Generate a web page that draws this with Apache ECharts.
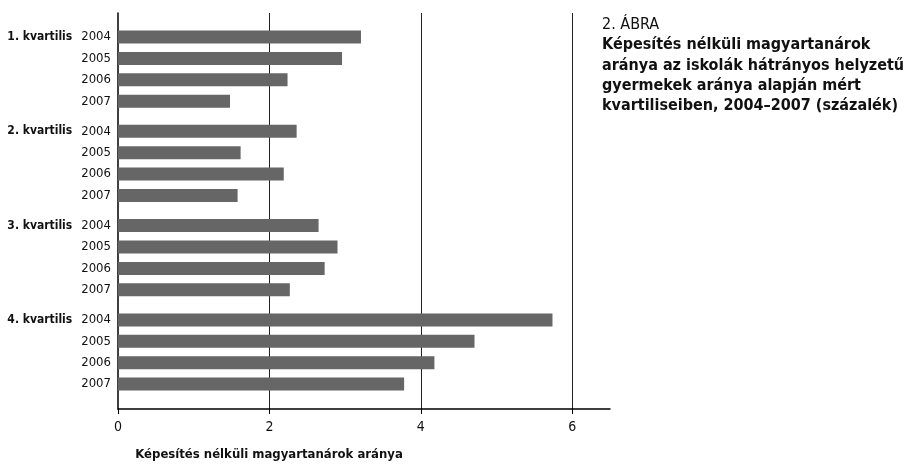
<!DOCTYPE html>
<html>
<head>
<meta charset="utf-8">
<script src="https://cdn.jsdelivr.net/npm/echarts@6/dist/echarts.min.js"></script>
<style>html,body{margin:0;padding:0;background:#fff}#c{width:921px;height:466px}</style>
</head>
<body>
<div id="c"></div>
<script>
const groups = ['1. kvartilis', '2. kvartilis', '3. kvartilis', '4. kvartilis'];
const years = ['2004', '2005', '2006', '2007'];
const q1 = [3.21, 2.96, 2.24, 1.48];
const q2 = [2.36, 1.62, 2.19, 1.58];
const q3 = [2.65, 2.90, 2.73, 2.27];
const q4 = [5.74, 4.71, 4.18, 3.78];
const xTicks = [0, 2, 4, 6];
const xMax = 6.5;
const xTitle = 'Képesítés nélküli magyartanárok aránya';
const titleLines = ['2. ÁBRA', 'Képesítés nélküli magyartanárok', 'aránya az iskolák hátrányos helyzetű', 'gyermekek aránya alapján mért', 'kvartiliseiben, 2004–2007 (százalék)'];

const FONT = '"Liberation Sans Narrow", "DejaVu Sans Condensed", "Roboto Condensed", "Noto Sans", sans-serif';
const values = [q1, q2, q3, q4];
const chart = echarts.init(document.getElementById('c'));

const L = 118, R = 311;
const tops = [26.3, 120.6, 214.9, 309.2];
const gh = 85.6;

const grids = [{ left: L, right: R, top: 13, bottom: 57, outerBoundsMode: 'none', containLabel: false }];
const xAxes = [{
  gridIndex: 0, type: 'value', min: 0, max: xMax, interval: 2,
  axisLine: { show: true, lineStyle: { color: '#000', width: 1.5 } },
  axisTick: { show: true, length: 5, lineStyle: { color: '#000' }, customValues: xTicks },
  axisLabel: { color: '#111', fontFamily: FONT, fontSize: 14, margin: 11, customValues: xTicks,
    formatter: v => String(v) },
  splitLine: { show: true, showMinLine: false, lineStyle: { color: '#222', width: 1 } }
}];
const yAxes = [{
  gridIndex: 0, type: 'value', min: 0, max: 1,
  axisLine: { show: true, lineStyle: { color: '#000', width: 1.5 } },
  axisTick: { show: false }, axisLabel: { show: false }, splitLine: { show: false }
}];
const series = [];
groups.forEach((g, i) => {
  const gi = i + 1;
  grids.push({ left: L, right: R, top: tops[i], height: gh, outerBoundsMode: 'none', containLabel: false });
  xAxes.push({ gridIndex: gi, type: 'value', min: 0, max: xMax, show: false });
  yAxes.push({
    gridIndex: gi, type: 'category', data: years, inverse: true,
    axisLine: { show: false }, axisTick: { show: false }, splitLine: { show: false },
    axisLabel: {
      margin: 7, color: '#111', fontFamily: FONT, fontSize: 13,
      formatter: (v, idx) => idx === 0 ? '{g|' + g + '}{y|' + v + '}' : '{y|' + v + '}',
      rich: {
        g: { fontFamily: FONT, fontSize: 12, fontWeight: 'bold', color: '#111', padding: [0, 9, 0, 0] },
        y: { fontFamily: FONT, fontSize: 13, color: '#111' }
      }
    }
  });
  series.push({
    type: 'bar', xAxisIndex: gi, yAxisIndex: gi, data: values[i],
    barWidth: 13, itemStyle: { color: '#666666' }, silent: true
  });
});

const graphic = [{
  type: 'text', x: 269, y: 455,
  style: { text: xTitle, font: 'bold 13px ' + FONT, fill: '#111', textAlign: 'center', textVerticalAlign: 'middle' }
}];
titleLines.forEach((t, i) => {
  graphic.push({
    type: 'text', x: 602, y: 25 + i * 20.3,
    style: { text: t, font: (i === 0 ? '' : 'bold ') + '16px ' + FONT, fill: '#111', textVerticalAlign: 'middle' }
  });
});

chart.setOption({
  animation: false,
  grid: grids, xAxis: xAxes, yAxis: yAxes, series: series, graphic: graphic
});
</script>
</body>
</html>
